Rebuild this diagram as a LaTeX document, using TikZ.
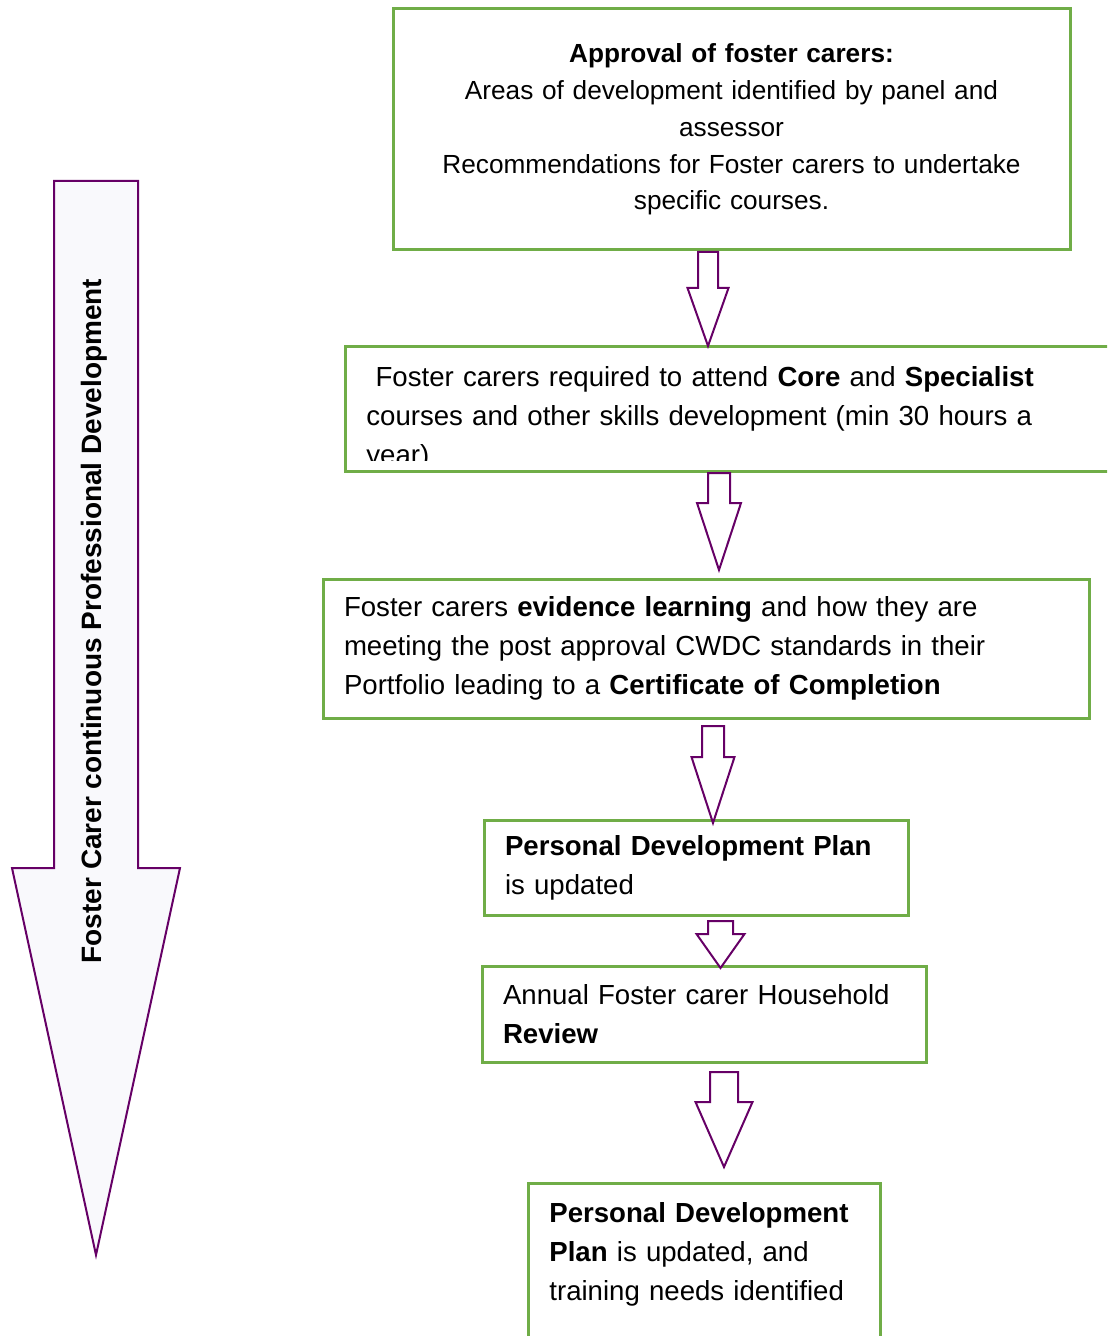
\documentclass[tikz,border=0pt]{standalone}
\usepackage{fontspec}
\setmainfont{Liberation Sans}
\usepackage{tikz}
\usetikzlibrary{positioning,calc}

\definecolor{boxgreen}{HTML}{70AD47}
\definecolor{arrowpurple}{HTML}{660066}
\definecolor{arrowfill}{HTML}{F9F9FC}

% hollow block arrow: from, to, x, shaft half, head half, shaft length, top gap, tip gap
\newcommand{\blockarrow}[8]{%
  \draw[blockarr] (#1.south -| #3,0) ++(-#4,#7) -- ++(0,#6) coordinate (neck)
    -- ++(#4-#5,0) -- ($(#2.north -| #3,0)+(0,{-(#8)})$) -- (neck -| #3+#5,0)
    -- (neck -| #3+#4,0) -- ++(0,-#6) -- cycle;}

\begin{document}
\begin{tikzpicture}[x=0.5pt, y=-0.5pt,
    box/.style={rectangle, draw=boxgreen, line width=1.5pt, outer sep=0,
        inner xsep=10.5pt, inner ysep=0pt, align=left,
        font=\fontsize{13.8pt}{19.5pt}\selectfont},
    textonly/.style={inner sep=0pt, align=left,
        font=\fontsize{13.8pt}{19.5pt}\selectfont},
    blockarr/.style={draw=arrowpurple, line width=1pt, fill=white},
    bigarr/.style={draw=arrowpurple, line width=1pt, fill=arrowfill}]
  \useasboundingbox (0,0) rectangle (1107,1336);
  \clip (0,0) rectangle (1107,1336);

  % the long arrow on the left
  \draw[bigarr] (54,181) -- (138,181) -- (138,868) -- (180,868) -- (96,1255)
    -- (12,868) -- (54,868) -- cycle;
  \node[rotate=90, anchor=base, inner sep=0pt,
    font=\bfseries\fontsize{14pt}{17pt}\selectfont] (cpd) at (101,621)
    {Foster Carer continuous Professional Development};

  % steps
  \node[box, align=center, text width=317.5pt, minimum height=120.5pt,
    font=\fontsize{13.1pt}{18.4pt}\selectfont] (approve) at (731.5,129.5)
    {\textbf{Approval of foster carers:}\\ Areas of development identified by panel and\\
     assessor\\ Recommendations for Foster carers to undertake\\ specific courses.};
  \node[box, minimum width=400pt, minimum height=62pt,
    below=48.5pt of approve, xshift=6.75pt] (courses) {};
  \begin{scope}
    \clip (courses.north west) rectangle ([yshift=5.5pt]courses.south east);
    \node[textonly, anchor=north west, text width=380pt] (coursestext)
      at ([xshift=10.5pt, yshift=-9.5pt]courses.north west)
      {~Foster carers required to attend \textbf{Core} and \textbf{Specialist}\\
       courses and other skills development (min 30 hours a\\ year)};
  \end{scope}
  \node[box, text width=362pt, minimum height=69.5pt,
    below=54pt of courses, xshift=-19.5pt] (evidence)
    {Foster carers \textbf{evidence learning} and how they are\\
     meeting the post approval CWDC standards in their\\
     Portfolio leading to a \textbf{Certificate of Completion}};
  \node[box, text width=191pt, minimum height=47.5pt,
    below=51pt of evidence, xshift=-5pt] (pdp)
    {\textbf{Personal Development Plan}\\ is updated};
  \node[box, text width=201pt, minimum height=48pt,
    below=25.5pt of pdp, xshift=4pt] (review)
    {Annual Foster carer Household\\ \textbf{Review}};
  \node[box, minimum width=176pt, minimum height=110pt,
    below=60.5pt of review] (pdpagain) {};
  \node[textonly, anchor=north west, text width=160pt] (pdpagaintext)
    at ([xshift=10.5pt, yshift=-9.5pt]pdpagain.north west)
    {\textbf{Personal Development}\\ \textbf{Plan} is updated, and\\ training needs identified};

  % arrows between the steps
  \blockarrow{approve}{courses}{708}{10}{20.5}{36}{2}{1}
  \blockarrow{courses}{evidence}{719}{11}{22}{30}{2}{9}
  \blockarrow{evidence}{pdp}{713}{11}{21.5}{31}{8}{-3}
  \blockarrow{pdp}{review}{720.5}{12.5}{24}{13}{6}{-2}
  \blockarrow{review}{pdpagain}{724}{14}{28.5}{30}{10}{16}
\end{tikzpicture}
\end{document}
